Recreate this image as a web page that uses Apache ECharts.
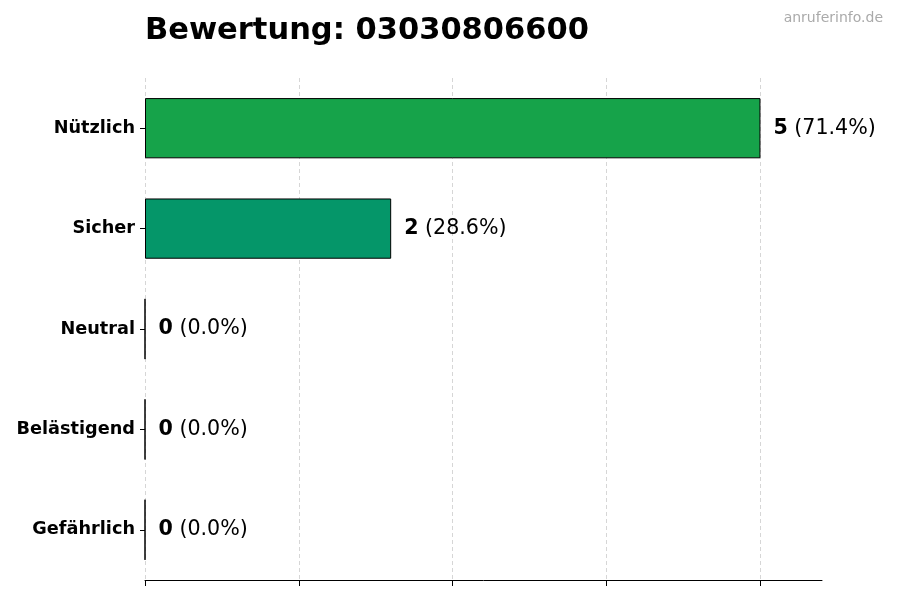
<!DOCTYPE html>
<html><head><meta charset="utf-8">
<script src="https://cdn.jsdelivr.net/npm/echarts@6/dist/echarts.min.js"></script>
<style>html,body{margin:0;padding:0;background:#fff}#c{width:900px;height:600px}</style>
</head><body><div id="c"></div>
<script>
const categories = ["Nützlich", "Sicher", "Neutral", "Belästigend", "Gefährlich"];
const values = [5, 2, 0, 0, 0];
const colors = ["#16a34a", "#059669", "#9ca3af", "#f97316", "#dc2626"];
const xTicks = [0, 1.25, 2.5, 3.75, 5];
const titleText = "Bewertung: 03030806600";
const watermark = "anruferinfo.de";

const total = values.reduce((a, b) => a + b, 0);
const FONT = "DejaVu Sans";
const chart = echarts.init(document.getElementById('c'), null, {renderer: 'canvas'});
chart.setOption({
  animation: false,
  backgroundColor: '#fff',
  textStyle: {fontFamily: FONT},
  title: [
    {text: titleText, left: 140, top: 11, textStyle: {fontFamily: FONT, fontWeight: 'bold', fontSize: 30.5, color: '#000'}},
    {text: watermark, right: 12, top: 6, textStyle: {fontFamily: FONT, fontWeight: 'normal', fontSize: 14, color: '#aaaaaa'}}
  ],
  grid: {left: 145, right: 78, top: 78, bottom: 20, containLabel: false},
  xAxis: {
    type: 'value', min: 0, max: 5.5, interval: 1.25,
    axisLine: {show: true, lineStyle: {color: '#000', width: 1}},
    axisTick: {show: true, length: 6, customValues: xTicks, lineStyle: {color: '#000'}},
    axisLabel: {show: false},
    splitLine: {show: true, lineStyle: {color: ['#cccccc', '#cccccc', '#cccccc', '#cccccc', '#cccccc', 'rgba(0,0,0,0)'], type: [4, 3], width: 0.8}}
  },
  yAxis: {
    type: 'category', data: categories, inverse: true,
    axisLine: {show: false},
    axisTick: {show: true, alignWithLabel: true, length: 5, lineStyle: {color: '#000'}},
    axisLabel: {fontFamily: FONT, fontWeight: 'bold', fontSize: 17.7, color: '#000', margin: 10, padding: [3, 0, 0, 0]}
  },
  series: [{
    type: 'bar',
    data: values.map((v, i) => ({value: v, itemStyle: {color: colors[i]}})),
    barWidth: '60%',
    itemStyle: {borderColor: '#000', borderWidth: 1},
    label: {
      show: true, position: 'right', distance: 13,
      formatter: p => '{b|' + p.value + '}{n| (' + (total ? (p.value / total * 100) : 0).toFixed(1) + '%)}',
      rich: {
        b: {fontFamily: FONT, fontWeight: 'bold', fontSize: 20.6, color: '#000'},
        n: {fontFamily: FONT, fontWeight: 'normal', fontSize: 20.6, color: '#000'}
      }
    }
  }]
});
</script></body></html>
